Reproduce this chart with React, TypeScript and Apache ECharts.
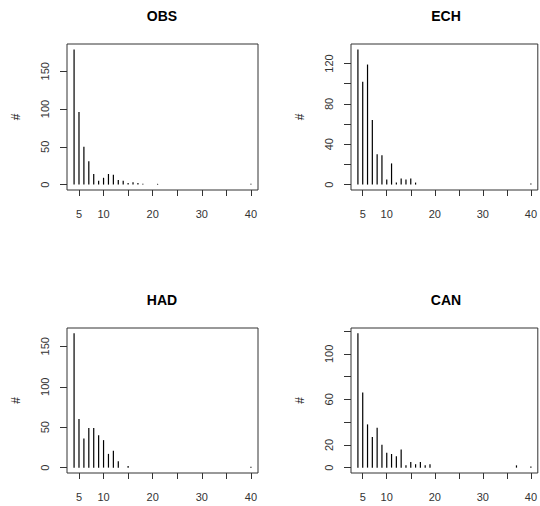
import React, { useEffect, useRef } from "react";
import * as echarts from "echarts";

const panelTitles = ["OBS", "ECH", "HAD", "CAN"];

const obsX = [4, 5, 6, 7, 8, 9, 10, 11, 12, 13, 14, 15, 16, 17, 18, 21, 40];
const obsY = [179, 96, 50, 31, 14, 5, 9, 14, 13, 6, 5, 2, 3, 2, 1, 1, 1];

const echX = [4, 5, 6, 7, 8, 9, 10, 11, 12, 13, 14, 15, 16, 40];
const echY = [134, 102, 119, 64, 30, 29, 5, 21, 2, 6, 5, 6, 2, 1];

const hadX = [4, 5, 6, 7, 8, 9, 10, 11, 12, 13, 15, 40];
const hadY = [166, 60, 36, 49, 49, 40, 34, 17, 21, 8, 2, 1];

const canX = [4, 5, 6, 7, 8, 9, 10, 11, 12, 13, 14, 15, 16, 17, 18, 19, 37, 40];
const canY = [118, 66, 38, 27, 35, 20, 13, 12, 10, 16, 2, 5, 3, 5, 2, 3, 2, 1];

const xTicks = [5, 10, 15, 20, 25, 30, 35, 40];
const xTickLabels = [5, 10, 20, 30, 40];

const obsYTicks = [0, 50, 100, 150];
const obsYLabels = [0, 50, 100, 150];
const echYTicks = [0, 20, 40, 60, 80, 100, 120];
const echYLabels = [0, 40, 80, 120];
const hadYTicks = [0, 50, 100, 150];
const hadYLabels = [0, 50, 100, 150];
const canYTicks = [0, 20, 40, 60, 80, 100, 120];
const canYLabels = [0, 20, 60, 100];

const yAxisName = "#";

const panels = [
  { x: obsX, y: obsY, ticks: obsYTicks, labels: obsYLabels },
  { x: echX, y: echY, ticks: echYTicks, labels: echYLabels },
  { x: hadX, y: hadY, ticks: hadYTicks, labels: hadYLabels },
  { x: canX, y: canY, ticks: canYTicks, labels: canYLabels },
];

const gridPos = [
  { left: 67, top: 44, width: 191, height: 146 },
  { left: 351, top: 44, width: 191, height: 146 },
  { left: 67, top: 328, width: 191, height: 145 },
  { left: 351, top: 328, width: 191, height: 145 },
];

const FONT = "Liberation Sans, Arial, sans-serif";

export default function App() {
  const ref = useRef<HTMLDivElement>(null);
  useEffect(() => {
    if (!ref.current) return;
    const chart = echarts.init(ref.current, null, { renderer: "svg" });
    const allX = panels.flatMap((p) => p.x);
    const xMinD = Math.min(...allX);
    const xMaxD = Math.max(...allX);
    const xPad = (xMaxD - xMinD) * 0.04;

    const grids = gridPos.map((g) => ({
      ...g,
      show: true,
      borderColor: "#333",
      borderWidth: 1,
      backgroundColor: "transparent",
      containLabel: false,
    }));

    const xAxes = panels.map((_, i) => ({
      type: "value",
      gridIndex: i,
      position: "bottom",
      min: xMinD - xPad,
      max: xMaxD + xPad,
      axisLine: { show: false, onZero: false },
      splitLine: { show: false },
      axisTick: {
        show: true,
        length: 6,
        customValues: xTicks,
        lineStyle: { color: "#333", width: 1 },
      },
      axisLabel: {
        show: true,
        customValues: xTickLabels,
        margin: 18,
        color: "#333",
        fontSize: 11,
        fontFamily: FONT,
      },
    }));

    const yAxes = panels.map((p, i) => {
      const mx = Math.max(...p.y);
      return {
        type: "value",
        gridIndex: i,
        position: "left",
        min: -0.04 * mx,
        max: mx * 1.04,
        name: yAxisName,
        nameLocation: "middle",
        nameRotate: 90,
        nameGap: 45,
        nameTextStyle: { color: "#222", fontSize: 12, fontFamily: FONT },
        axisLine: { show: false, onZero: false },
        splitLine: { show: false },
        axisTick: {
          show: true,
          length: 7,
          customValues: p.ticks,
          lineStyle: { color: "#333", width: 1 },
        },
        axisLabel: {
          show: true,
          customValues: p.labels,
          rotate: 90,
          margin: 17,
          color: "#333",
          fontSize: 11,
          fontFamily: FONT,
        },
      };
    });

    const series = panels.map((p, i) => ({
      type: "custom",
      xAxisIndex: i,
      yAxisIndex: i,
      encode: { x: 0, y: 1 },
      data: p.x.map((xv, k) => [xv, p.y[k]]),
      renderItem: (params: any, api: any) => {
        const xv = api.value(0);
        const yv = api.value(1);
        const p0 = api.coord([xv, 0]);
        const p1 = api.coord([xv, yv]);
        return {
          type: "line",
          shape: { x1: p0[0], y1: p0[1], x2: p1[0], y2: p1[1] },
          style: { stroke: "#000", lineWidth: 1.2 },
        };
      },
    }));

    const titles = gridPos.map((g, i) => ({
      type: "text",
      x: g.left + 95,
      y: g.top - 28,
      style: {
        text: panelTitles[i],
        textAlign: "center",
        textVerticalAlign: "middle",
        font: `bold 14px ${FONT}`,
        fill: "#000",
      },
    }));

    chart.setOption({
      animation: false,
      backgroundColor: "#fff",
      grid: grids,
      xAxis: xAxes,
      yAxis: yAxes,
      series,
      graphic: titles,
    } as any);
    return () => chart.dispose();
  }, []);
  return (
    <div
      ref={ref}
      style={{
        position: "absolute",
        left: 0,
        top: 0,
        width: 540,
        height: 506,
        overflow: "hidden",
      }}
    />
  );
}
